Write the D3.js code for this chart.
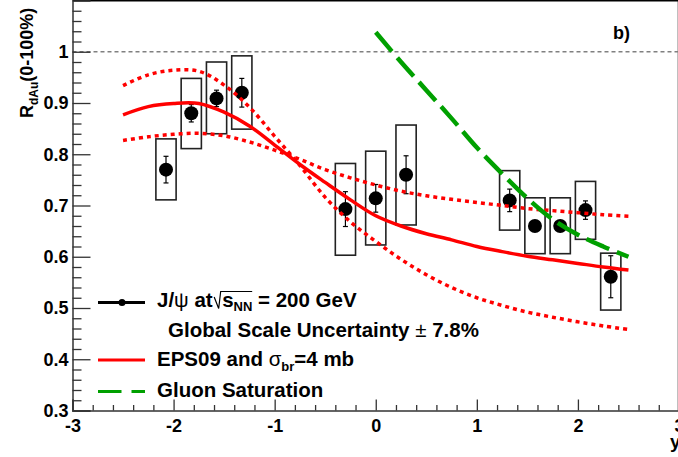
<!DOCTYPE html>
<html>
<head>
<meta charset="utf-8">
<script src="https://cdn.jsdelivr.net/npm/d3@7"></script>
<style>
  html, body { margin: 0; padding: 0; background: #fff; }
  svg { display: block; }
  text { font-family: "Liberation Sans", Arial, Helvetica, sans-serif; font-weight: bold; }
</style>
</head>
<body>
<div id="chart"></div>
<script>
// ---------------- data ----------------
const rapidity = [-2.075, -1.825, -1.575, -1.325, -0.3, 0.0, 0.3, 1.325, 1.575, 1.825, 2.075, 2.325];
const rdau     = [0.770, 0.880, 0.909, 0.920, 0.693, 0.714, 0.760, 0.710, 0.660, 0.660, 0.691, 0.561];
const statErr  = [0.026, 0.017, 0.016, 0.028, 0.034, 0.027, 0.037, 0.022, 0.010, 0.010, 0.018, 0.041];
const boxHigh  = [0.830, 0.948, 0.980, 0.992, 0.782, 0.806, 0.857, 0.768, 0.715, 0.715, 0.747, 0.607];
const boxLow   = [0.711, 0.811, 0.840, 0.849, 0.603, 0.623, 0.662, 0.652, 0.606, 0.606, 0.634, 0.496];
const boxHalfWidth = 0.1;

const epsX      = [-2.5, -2.25, -2.0, -1.75, -1.5, -1.25, -1.0, -0.75, -0.5, -0.25, 0.0, 0.25, 0.5, 0.75, 1.0, 1.25, 1.5, 1.75, 2.0, 2.25, 2.5];
const epsCentral= [0.877, 0.893, 0.899, 0.899, 0.882, 0.855, 0.818, 0.780, 0.745, 0.711, 0.680, 0.660, 0.645, 0.633, 0.620, 0.610, 0.601, 0.594, 0.587, 0.580, 0.574];
const epsBandA  = [0.934, 0.955, 0.964, 0.962, 0.935, 0.892, 0.835, 0.778, 0.716, 0.668, 0.630, 0.595, 0.565, 0.540, 0.520, 0.505, 0.492, 0.482, 0.473, 0.465, 0.458];
const epsBandB  = [0.827, 0.834, 0.839, 0.841, 0.836, 0.824, 0.808, 0.790, 0.770, 0.754, 0.740, 0.728, 0.719, 0.712, 0.706, 0.700, 0.694, 0.690, 0.686, 0.682, 0.679];

const cgcX = [0.0, 0.25, 0.5, 0.75, 1.0, 1.25, 1.5, 1.75, 2.0, 2.25, 2.5];
const cgcY = [1.038, 0.980, 0.925, 0.870, 0.813, 0.762, 0.714, 0.673, 0.643, 0.620, 0.600];

const xTicks = [-3, -2, -1, 0, 1, 2, 3];
const xTickLabels = ["-3", "-2", "-1", "0", "1", "2", "3"];
const yTicks = [0.3, 0.4, 0.5, 0.6, 0.7, 0.8, 0.9, 1.0];
const yTickLabels = ["0.3", "0.4", "0.5", "0.6", "0.7", "0.8", "0.9", "1"];
const xMinor = [-2.8,-2.6,-2.4,-2.2,-1.8,-1.6,-1.4,-1.2,-0.8,-0.6,-0.4,-0.2,0.2,0.4,0.6,0.8,1.2,1.4,1.6,1.8,2.2,2.4,2.6,2.8];
const yMinor = [0.32,0.34,0.36,0.38,0.42,0.44,0.46,0.48,0.52,0.54,0.56,0.58,0.62,0.64,0.66,0.68,0.72,0.74,0.76,0.78,0.82,0.84,0.86,0.88,0.92,0.94,0.96,0.98,1.02,1.04,1.06,1.08];

// ---------------- layout ----------------
const W = 678, H = 457;
const x = d3.scaleLinear().domain([-3, 3]).range([72.5, 679]);
const y = d3.scaleLinear().domain([0.3, 1.1]).range([410.5, 0.5]);

const svg = d3.select("#chart").append("svg").attr("width", W).attr("height", H);

// frame (top & right)
svg.append("line").attr("x1", 72.5).attr("x2", 679).attr("y1", 0.75).attr("y2", 0.75)
  .attr("stroke", "#000").attr("stroke-width", 1.5);
svg.append("line").attr("x1", 678.5).attr("x2", 678.5).attr("y1", 0).attr("y2", 410.5)
  .attr("stroke", "#000").attr("stroke-width", 1.5);

// dashed line at 1
svg.append("line").attr("x1", x(-3)).attr("x2", x(3)).attr("y1", y(1)).attr("y2", y(1))
  .attr("stroke", "#808080").attr("stroke-width", 1.5).attr("stroke-dasharray", "4,3");

// axes
const xAxis = svg.append("g").attr("transform", `translate(0,${y(0.3)})`)
  .call(d3.axisBottom(x).tickValues(xTicks).tickSize(-11).tickPadding(8.5)
        .tickFormat((d, i) => xTickLabels[i]));
const xAxisMinor = svg.append("g").attr("transform", `translate(0,${y(0.3)})`)
  .call(d3.axisBottom(x).tickValues(xMinor).tickSize(-5.5).tickFormat(""));
const yAxis = svg.append("g").attr("transform", `translate(${x(-3)},0)`)
  .call(d3.axisLeft(y).tickValues(yTicks).tickSize(-18).tickPadding(4)
        .tickFormat((d, i) => yTickLabels[i]));
const yAxisMinor = svg.append("g").attr("transform", `translate(${x(-3)},0)`)
  .call(d3.axisLeft(y).tickValues(yMinor).tickSize(-9).tickFormat(""));

[xAxis, xAxisMinor, yAxis, yAxisMinor].forEach(g => {
  g.select(".domain").attr("stroke", "#333").attr("stroke-width", 1.5);
  g.selectAll(".tick line").attr("stroke", "#333").attr("stroke-width", 1.3);
  g.selectAll(".tick text").attr("font-size", 18).attr("font-weight", "bold")
    .attr("font-family", "Liberation Sans, Arial, sans-serif").attr("fill", "#000");
});
xAxisMinor.select(".domain").remove();
yAxisMinor.select(".domain").remove();

// axis titles
const yt = svg.append("text").attr("transform", "translate(33,118) rotate(-90)")
  .attr("font-size", 18);
yt.append("tspan").text("R");
yt.append("tspan").attr("font-size", 12).attr("dy", 5).text("dAu");
yt.append("tspan").attr("dy", -5).text("(0-100%)");

svg.append("text").attr("x", 670).attr("y", 448).attr("font-size", 19).text("y");
svg.append("text").attr("x", 613).attr("y", 39).attr("font-size", 18).text("b)");

// ---------------- data marks ----------------
const pts = rapidity.map((r, i) => ({ r, v: rdau[i], e: statErr[i], hi: boxHigh[i], lo: boxLow[i] }));

// systematic boxes
svg.append("g").selectAll("rect").data(pts).join("rect")
  .attr("x", d => x(d.r - boxHalfWidth))
  .attr("width", d => x(d.r + boxHalfWidth) - x(d.r - boxHalfWidth))
  .attr("y", d => y(d.hi))
  .attr("height", d => y(d.lo) - y(d.hi))
  .attr("fill", "none").attr("stroke", "#222").attr("stroke-width", 1.6);

// stat error bars
const eb = svg.append("g").attr("stroke", "#000").attr("stroke-width", 1.2);
eb.selectAll("line.v").data(pts).join("line").attr("class", "v")
  .attr("x1", d => x(d.r)).attr("x2", d => x(d.r))
  .attr("y1", d => y(d.v + d.e)).attr("y2", d => y(d.v - d.e));
eb.selectAll("line.t").data(pts).join("line").attr("class", "t")
  .attr("x1", d => x(d.r) - 2.5).attr("x2", d => x(d.r) + 2.5)
  .attr("y1", d => y(d.v + d.e)).attr("y2", d => y(d.v + d.e));
eb.selectAll("line.b").data(pts).join("line").attr("class", "b")
  .attr("x1", d => x(d.r) - 2.5).attr("x2", d => x(d.r) + 2.5)
  .attr("y1", d => y(d.v - d.e)).attr("y2", d => y(d.v - d.e));

// points
svg.append("g").selectAll("circle").data(pts).join("circle")
  .attr("cx", d => x(d.r)).attr("cy", d => y(d.v)).attr("r", 7).attr("fill", "#000");

// ---------------- curves ----------------
const line = d3.line().x(d => x(d[0])).y(d => y(d[1])).curve(d3.curveCatmullRom.alpha(0.5));
const zip = (a, b) => a.map((v, i) => [v, b[i]]);

svg.append("path").datum(zip(epsX, epsBandA)).attr("d", line)
  .attr("fill", "none").attr("stroke", "#ff0000").attr("stroke-width", 3.5).attr("stroke-dasharray", "4,4");
svg.append("path").datum(zip(epsX, epsBandB)).attr("d", line)
  .attr("fill", "none").attr("stroke", "#ff0000").attr("stroke-width", 3.5).attr("stroke-dasharray", "4,4");
svg.append("path").datum(zip(epsX, epsCentral)).attr("d", line)
  .attr("fill", "none").attr("stroke", "#ff0000").attr("stroke-width", 3.5);
svg.append("path").datum(zip(cgcX, cgcY)).attr("d", line)
  .attr("fill", "none").attr("stroke", "#00a000").attr("stroke-width", 4.5).attr("stroke-dasharray", "25,8");

// ---------------- legend ----------------
const LF = 20.5, SF = 13;
const lg = svg.append("g");
lg.append("line").attr("x1", 98).attr("x2", 145).attr("y1", 302.5).attr("y2", 302.5)
  .attr("stroke", "#000").attr("stroke-width", 3);
lg.append("circle").attr("cx", 122).attr("cy", 302.5).attr("r", 3.5).attr("fill", "#000");
const t1 = lg.append("text").attr("x", 157).attr("y", 307).attr("font-size", LF);
t1.append("tspan").text("J/");
t1.append("tspan").attr("font-weight", "normal").text("ψ");
t1.append("tspan").text(" at");
const t1end = 157 + t1.node().getComputedTextLength();
// radical sign
const rx = t1end + 1.5;
lg.append("path").attr("d", `M${rx},297 L${rx + 4.5},308.5 L${rx + 6.5},291.5 L${rx + 38},291.5`)
  .attr("fill", "none").attr("stroke", "#000").attr("stroke-width", 1.2);
const t1b = lg.append("text").attr("x", rx + 8).attr("y", 307).attr("font-size", LF);
t1b.append("tspan").text("s");
t1b.append("tspan").attr("font-size", SF).attr("dy", 4).text("NN");
t1b.append("tspan").attr("dy", -4).text(" = 200 GeV");

const t2 = lg.append("text").attr("x", 168).attr("y", 337).attr("font-size", LF);
t2.append("tspan").text("Global Scale Uncertainty ");
t2.append("tspan").attr("font-weight", "normal").text("±");
t2.append("tspan").text(" 7.8%");

lg.append("line").attr("x1", 98).attr("x2", 145).attr("y1", 360).attr("y2", 360)
  .attr("stroke", "#ff0000").attr("stroke-width", 3);
const t3 = lg.append("text").attr("x", 157).attr("y", 366).attr("font-size", LF);
t3.append("tspan").text("EPS09 and ");
t3.append("tspan").attr("font-weight", "normal").text("σ");
t3.append("tspan").attr("font-size", SF).attr("dy", 5).text("br");
t3.append("tspan").attr("dy", -5).text("=4 mb");

lg.append("line").attr("x1", 98).attr("x2", 145).attr("y1", 391.5).attr("y2", 391.5)
  .attr("stroke", "#00a000").attr("stroke-width", 3).attr("stroke-dasharray", "23.5,10");
lg.append("text").attr("x", 157).attr("y", 397).attr("font-size", LF).text("Gluon Saturation");
</script>
</body>
</html>
